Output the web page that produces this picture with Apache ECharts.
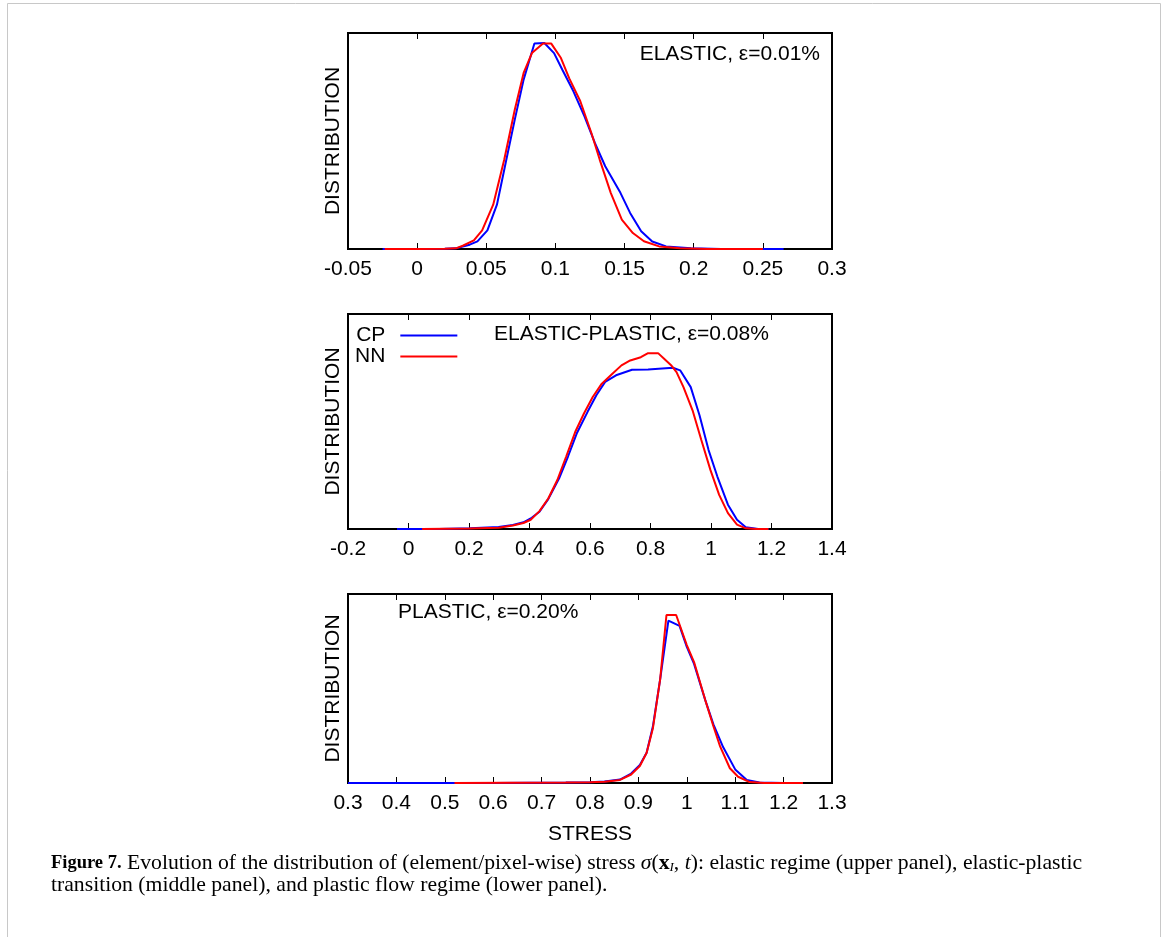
<!DOCTYPE html>
<html>
<head>
<meta charset="utf-8">
<script src="https://cdn.jsdelivr.net/npm/echarts@6/dist/echarts.min.js"></script>
<style>
html,body{margin:0;padding:0;background:#fff;}
#chart{width:1168px;height:937px;}
</style>
</head>
<body>
<div id="chart"></div>
<script>
// ---------- DATA ----------
// Panel 1: elastic regime, eps = 0.01%
const elasticTicks = [-0.05, 0.3, 0.05]; // min, max, interval
const elasticCPx = [-0.025, 0.0, 0.02, 0.028, 0.038, 0.0436, 0.0508, 0.0577, 0.064, 0.0706, 0.077, 0.0848, 0.092, 0.099, 0.105, 0.113, 0.121, 0.1286, 0.136, 0.147, 0.154, 0.162, 0.170, 0.180, 0.198, 0.22, 0.265];
const elasticCPy = [0, 0, 0.001, 0.003, 0.02, 0.035, 0.086, 0.205, 0.398, 0.599, 0.784, 0.951, 0.954, 0.907, 0.83, 0.73, 0.614, 0.49, 0.383, 0.26, 0.167, 0.082, 0.035, 0.012, 0.003, 0, 0];
const elasticNNx = [-0.0235, 0.0, 0.02, 0.028, 0.033, 0.041, 0.047, 0.055, 0.063, 0.0706, 0.077, 0.083, 0.091, 0.097, 0.104, 0.110, 0.118, 0.126, 0.132, 0.140, 0.148, 0.156, 0.164, 0.175, 0.19, 0.21, 0.25];
const elasticNNy = [0, 0, 0.001, 0.003, 0.015, 0.04, 0.086, 0.205, 0.414, 0.645, 0.815, 0.907, 0.951, 0.951, 0.884, 0.79, 0.684, 0.537, 0.414, 0.26, 0.136, 0.074, 0.036, 0.012, 0.003, 0, 0];

// Panel 2: elastic-plastic transition, eps = 0.08%
const transTicks = [-0.2, 1.4, 0.2];
const transCPx = [-0.038, 0.1, 0.204, 0.298, 0.345, 0.38, 0.404, 0.433, 0.462, 0.498, 0.527, 0.556, 0.592, 0.621, 0.65, 0.686, 0.739, 0.792, 0.874, 0.898, 0.933, 0.962, 0.992, 1.021, 1.056, 1.086, 1.115, 1.156, 1.19];
const transCPy = [0, 0, 0.003, 0.009, 0.019, 0.031, 0.049, 0.08, 0.139, 0.236, 0.336, 0.444, 0.545, 0.622, 0.684, 0.715, 0.741, 0.742, 0.75, 0.738, 0.66, 0.529, 0.367, 0.244, 0.113, 0.043, 0.008, 0, 0];
const transNNx = [0.045, 0.2, 0.298, 0.345, 0.38, 0.404, 0.433, 0.462, 0.492, 0.521, 0.551, 0.58, 0.609, 0.639, 0.674, 0.704, 0.733, 0.768, 0.792, 0.825, 0.845, 0.868, 0.886, 0.909, 0.939, 0.968, 0.998, 1.027, 1.056, 1.086, 1.115, 1.15, 1.19];
const transNNy = [0, 0.002, 0.006, 0.016, 0.028, 0.043, 0.083, 0.142, 0.228, 0.336, 0.451, 0.537, 0.614, 0.676, 0.722, 0.761, 0.784, 0.799, 0.818, 0.818, 0.792, 0.762, 0.73, 0.66, 0.552, 0.414, 0.275, 0.159, 0.074, 0.02, 0.003, 0, 0];

// Panel 3: plastic flow regime, eps = 0.20%
const plasticTicks = [0.3, 1.3, 0.1];
const plasticCPx = [0.3, 0.6, 0.75, 0.8, 0.83, 0.862, 0.885, 0.903, 0.917, 0.93, 0.945, 0.962, 0.985, 1.0, 1.015, 1.038, 1.055, 1.075, 1.1, 1.124, 1.15, 1.2, 1.24];
const plasticCPy = [0, 0, 0.002, 0.004, 0.008, 0.018, 0.05, 0.095, 0.16, 0.30, 0.55, 0.859, 0.831, 0.72, 0.63, 0.44, 0.31, 0.19, 0.072, 0.016, 0.003, 0, 0];
const plasticNNx = [0.52, 0.75, 0.8, 0.83, 0.862, 0.885, 0.903, 0.917, 0.93, 0.945, 0.958, 0.978, 1.0, 1.015, 1.038, 1.055, 1.069, 1.089, 1.106, 1.13, 1.16, 1.24];
const plasticNNy = [0, 0.002, 0.004, 0.007, 0.016, 0.045, 0.09, 0.16, 0.29, 0.55, 0.889, 0.889, 0.73, 0.64, 0.44, 0.30, 0.192, 0.078, 0.033, 0.005, 0, 0];

const seriesNames = ['CP', 'NN'];
const panelLabels = ['ELASTIC, \u03b5=0.01%', 'ELASTIC-PLASTIC, \u03b5=0.08%', 'PLASTIC, \u03b5=0.20%'];
const yAxisTitle = 'DISTRIBUTION';
const xAxisTitle = 'STRESS';

// ---------- BUILD ----------
const zip = (xs, ys) => xs.map((x, i) => [x, ys[i]]);
const FONT = '"Liberation Sans", Arial, sans-serif';
const panels = [
  {top: 33, height: 216, ticks: elasticTicks, cp: zip(elasticCPx, elasticCPy), nn: zip(elasticNNx, elasticNNy)},
  {top: 314, height: 215, ticks: transTicks, cp: zip(transCPx, transCPy), nn: zip(transNNx, transNNy)},
  {top: 594, height: 189, ticks: plasticTicks, cp: zip(plasticCPx, plasticCPy), nn: zip(plasticNNx, plasticNNy)}
];

const grid = [], xAxis = [], yAxis = [], series = [];
panels.forEach((p, i) => {
  grid.push({left: 348, width: 484, top: p.top, height: p.height, show: true,
             borderColor: '#000', borderWidth: 2, backgroundColor: 'transparent'});
  const common = {type: 'value', gridIndex: i, min: p.ticks[0], max: p.ticks[1], interval: p.ticks[2],
                  splitLine: {show: false}, axisLine: {show: false},
                  axisTick: {show: true, inside: true, length: 6, lineStyle: {color: '#000', width: 1}}};
  xAxis.push(Object.assign({}, common, {position: 'bottom',
    axisLabel: {show: true, color: '#000', fontFamily: FONT, fontSize: 21, margin: 10},
    name: i === 2 ? xAxisTitle : '', nameLocation: 'middle', nameGap: 41,
    nameTextStyle: {color: '#000', fontFamily: FONT, fontSize: 21}}));
  xAxis.push(Object.assign({}, common, {position: 'top', axisLabel: {show: false}}));
  yAxis.push({type: 'value', gridIndex: i, min: 0, max: 1, axisLabel: {show: false}, axisTick: {show: false},
    axisLine: {show: false}, splitLine: {show: false},
    name: yAxisTitle, nameLocation: 'middle', nameGap: 4,
    nameTextStyle: {color: '#000', fontFamily: FONT, fontSize: 21}});
  series.push({name: seriesNames[0], type: 'line', xAxisIndex: 2 * i, yAxisIndex: i, data: p.cp,
    showSymbol: false, symbol: 'none', lineStyle: {color: '#0000ff', width: 2}, itemStyle: {color: '#0000ff'}, z: 2, animation: false});
  series.push({name: seriesNames[1], type: 'line', xAxisIndex: 2 * i, yAxisIndex: i, data: p.nn,
    showSymbol: false, symbol: 'none', lineStyle: {color: '#ff0000', width: 2}, itemStyle: {color: '#ff0000'}, z: 3, animation: false});
});

const capFont = '"Liberation Serif", "Times New Roman", serif';
const chart = echarts.init(document.getElementById('chart'), null, {renderer: 'canvas'});
chart.setOption({
  animation: false,
  backgroundColor: '#fff',
  grid, xAxis, yAxis, series,
  legend: {
    data: seriesNames, left: 350, top: 320, orient: 'vertical', align: 'right',
    icon: 'rect', itemWidth: 57, itemHeight: 2, itemGap: 0,
    textStyle: {color: '#000', fontFamily: FONT, fontSize: 21, padding: [0, 10, 0, 0]},
    selectedMode: false
  },
  graphic: [
    {type: 'rect', shape: {x: 7.5, y: 3.5, width: 1153, height: 950}, style: {fill: 'none', stroke: '#c8c8c8', lineWidth: 1}, silent: true},
    {type: 'text', right: 1168 - 820, top: 44, style: {text: panelLabels[0], fill: '#000', font: '21px ' + FONT}},
    {type: 'text', left: 494, top: 324, style: {text: panelLabels[1], fill: '#000', font: '21px ' + FONT}},
    {type: 'text', left: 398, top: 602, style: {text: panelLabels[2], fill: '#000', font: '21px ' + FONT}},
    {type: 'text', left: 51, top: 852, style: {
      text: '{b|Figure 7.} Evolution of the distribution of (element/pixel-wise) stress {i|\u03c3}({bx|x}{sub|I}, {i|t}): elastic regime (upper panel), elastic-plastic\ntransition (middle panel), and plastic flow regime (lower panel).',
      fill: '#000', font: '21.7px ' + capFont, lineHeight: 22,
      rich: {
        b: {fontWeight: 'bold', fontSize: 18.5, fontFamily: capFont, lineHeight: 22},
        i: {fontStyle: 'italic', fontSize: 21.7, fontFamily: capFont, lineHeight: 22},
        bx: {fontWeight: 'bold', fontSize: 21.7, fontFamily: capFont, lineHeight: 22},
        sub: {fontStyle: 'italic', fontSize: 13, fontFamily: capFont, verticalAlign: 'bottom', lineHeight: 20}
      }
    }}
  ]
});
</script>
</body>
</html>
